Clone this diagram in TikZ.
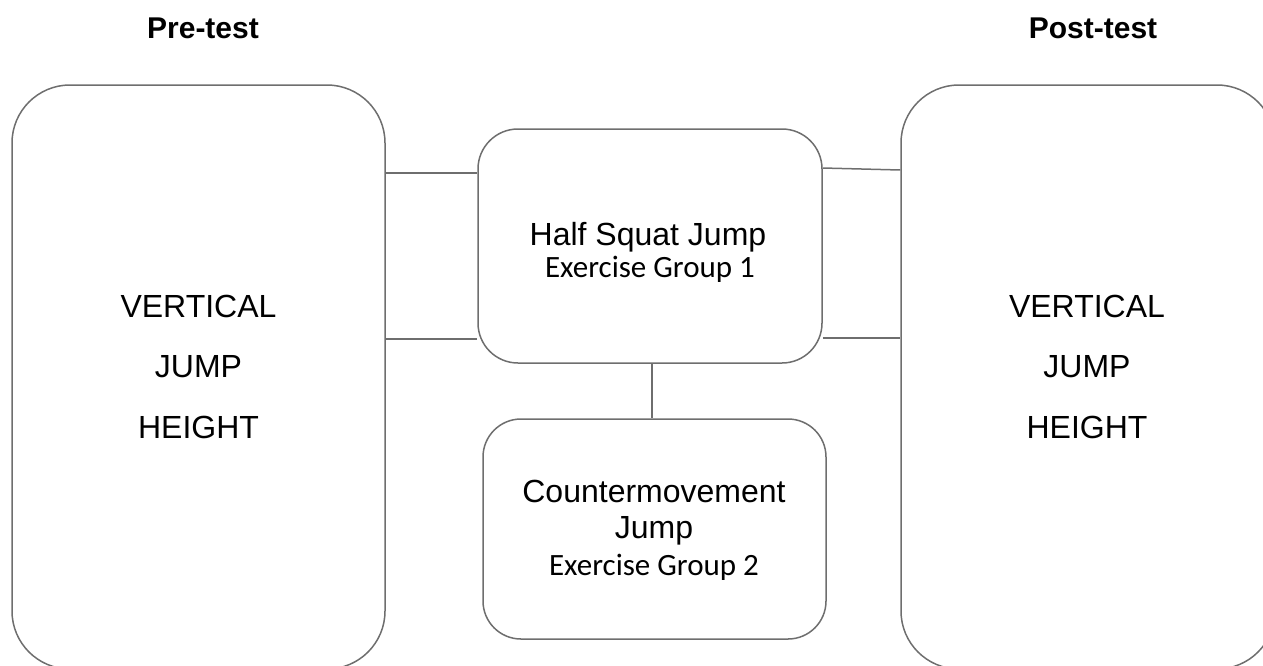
\documentclass[tikz,border=0pt]{standalone}
\usepackage{fontspec}
\setmainfont{Liberation Sans}
\newfontfamily\calibrifont{Carlito}
\begin{document}
\begin{tikzpicture}[x=1pt,y=-1pt,
  box/.style={draw=linegray,line width=1.5pt,rectangle,inner sep=0pt},
  conn/.style={draw=linegray,line width=1.5pt},
  big/.style={font=\fontsize{32}{38}\selectfont,anchor=base,inner sep=0pt},
  sub/.style={font=\calibrifont\fontsize{31}{37}\selectfont,anchor=base,inner sep=0pt},
  head/.style={font=\bfseries\fontsize{30}{36}\selectfont,anchor=base,inner sep=0pt}]
\definecolor{linegray}{HTML}{6E6E6E}
\useasboundingbox (0,0) rectangle (1263,665);
% headings
\node[head] (pre) at (203,38) {Pre-test};
\node[head] (post) at (1093,38) {Post-test};
% big boxes
\node[box,rounded corners=58pt,minimum width=373pt,minimum height=584pt] (L) at (198.5,377) {};
\node[box,rounded corners=58pt,minimum width=374pt,minimum height=584pt] (R) at (1088,377) {};
% middle boxes
\node[box,rounded corners=40pt,minimum width=344pt,minimum height=234pt] (B1) at (650,246) {};
\node[box,rounded corners=38pt,minimum width=343pt,minimum height=220pt] (B2) at (654.5,529) {};
% texts left
\node[big] (l1) at (198.5,317) {VERTICAL};
\node[big] (l2) at (198.5,377.5) {JUMP};
\node[big] (l3) at (198.5,438) {HEIGHT};
% texts right
\node[big] (r1) at (1087,317) {VERTICAL};
\node[big] (r2) at (1087,377.5) {JUMP};
\node[big] (r3) at (1087,438) {HEIGHT};
% box 1 text
\node[big] (b1a) at (648,245) {Half Squat Jump};
\node[sub] (b1b) at (650,277) {Exercise Group 1};
% box 2 text
\node[big] (b2a) at (654,502) {Countermovement};
\node[big] (b2b) at (654,538) {Jump};
\node[sub] (b2c) at (654,575) {Exercise Group 2};
% connectors
\draw[conn] (L.east |- 0,173) -- (B1.west |- 0,173);
\draw[conn] (L.east |- 0,339) -- (B1.west |- 0,339);
\draw[conn] (B1.east |- 0,168) -- (R.west |- 0,170);
\draw[conn] (B1.east |- 0,338) -- (R.west |- 0,338);
\draw[conn] (B1.south -| 652,0) -- (B2.north -| 652,0);
\end{tikzpicture}
\end{document}
